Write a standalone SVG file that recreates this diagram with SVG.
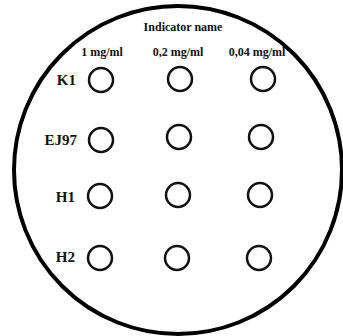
<svg xmlns="http://www.w3.org/2000/svg" width="343" height="336" viewBox="0 0 343 336">
<style>
text{font-family:"Liberation Serif","Times New Roman",serif;font-weight:bold;fill:#111}
.hd{font-size:12px;text-anchor:middle}
.rl{font-size:15px;text-anchor:end}
.well{fill:none;stroke:#111;stroke-width:2.5}
.plate{fill:#fff;stroke:#000;stroke-width:4}
</style>
<rect width="343" height="336" fill="#fff"/>
<g id="plate"><circle class="plate" cx="178" cy="170" r="164"/></g>
<g id="header">
<text class="hd" x="183" y="31">Indicator name</text>
<text class="hd" x="102" y="56">1 mg/ml</text>
<text class="hd" x="178" y="56">0,2 mg/ml</text>
<text class="hd" x="257" y="56">0,04 mg/ml</text>
</g>
<g id="row-K1">
<text class="rl" x="76" y="85">K1</text>
<circle class="well" cx="101" cy="80" r="12"/>
<circle class="well" cx="180" cy="79" r="12"/>
<circle class="well" cx="263" cy="79" r="12"/>
</g>
<g id="row-EJ97">
<text class="rl" x="77" y="145">EJ97</text>
<circle class="well" cx="101" cy="140" r="12"/>
<circle class="well" cx="179" cy="137" r="12"/>
<circle class="well" cx="261" cy="137" r="12"/>
</g>
<g id="row-H1">
<text class="rl" x="75" y="202">H1</text>
<circle class="well" cx="100" cy="196" r="12"/>
<circle class="well" cx="178" cy="195" r="12"/>
<circle class="well" cx="260" cy="195" r="12"/>
</g>
<g id="row-H2">
<text class="rl" x="75" y="262">H2</text>
<circle class="well" cx="100" cy="258" r="12"/>
<circle class="well" cx="177" cy="258" r="12"/>
<circle class="well" cx="259" cy="258" r="12"/>
</g>
<g id="connectors"></g>
</svg>
